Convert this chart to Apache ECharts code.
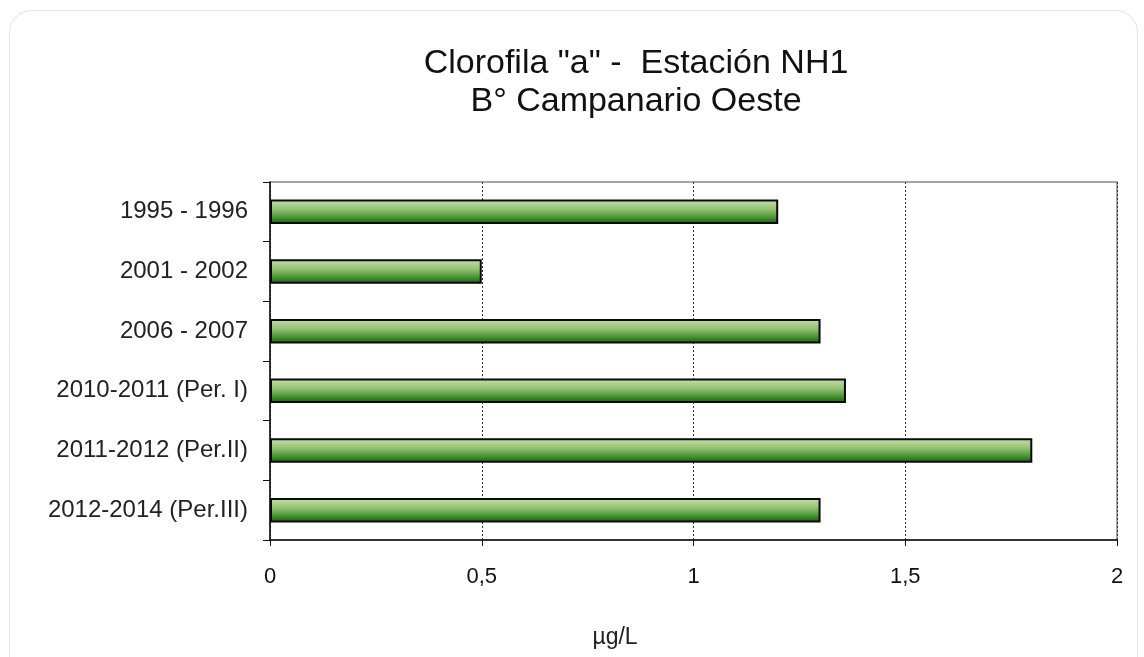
<!DOCTYPE html>
<html>
<head>
<meta charset="utf-8">
<script src="https://cdn.jsdelivr.net/npm/echarts@6/dist/echarts.min.js"></script>
<style>
  html, body { margin: 0; padding: 0; background: #fff; }
  #chart { width: 1144px; height: 657px; }
</style>
</head>
<body>
<div id="chart"></div>
<script>
// periods, top to bottom as in the picture
const periods = [
  '1995 - 1996',
  '2001 - 2002',
  '2006 - 2007',
  '2010-2011 (Per. I)',
  '2011-2012 (Per.II)',
  '2012-2014 (Per.III)'
];
// clorofila "a" en µg/L
const clorofila = [1.2, 0.5, 1.3, 1.36, 1.8, 1.3];
const xTicks = ['0', '0,5', '1', '1,5', '2'];

const chart = echarts.init(document.getElementById('chart'));

const barFill = new echarts.graphic.LinearGradient(0, 0, 0, 1, [
  { offset: 0, color: '#c8e0b2' },
  { offset: 0.4, color: '#93c273' },
  { offset: 0.75, color: '#44912f' },
  { offset: 1, color: '#185a10' }
]);

chart.setOption({
  animation: false,
  backgroundColor: '#fff',
  textStyle: { fontFamily: 'Liberation Sans, Arial, sans-serif' },
  graphic: [{
    type: 'rect',
    z: -10,
    shape: { x: 9.5, y: 10.5, width: 1128, height: 700, r: 22 },
    style: { fill: '#fff', stroke: '#e4e4e4', lineWidth: 1 }
  }],
  title: {
    text: 'Clorofila "a" -  Estación NH1\nB° Campanario Oeste',
    left: 631,
    top: 40,
    textAlign: 'center',
    textStyle: {
      fontSize: 34,
      fontWeight: 'normal',
      color: '#111',
      lineHeight: 38,
      fontFamily: 'Liberation Sans, Arial, sans-serif'
    }
  },
  grid: {
    left: 270, right: 27, top: 182, bottom: 117,
    containLabel: false, outerBoundsMode: 'none',
    show: true, borderColor: '#888', borderWidth: 1.5
  },
  xAxis: {
    type: 'value',
    min: 0,
    max: 2,
    interval: 0.5,
    name: 'µg/L',
    nameLocation: 'middle',
    nameGap: 86,
    nameTextStyle: { fontSize: 23, color: '#222', padding: [0, 157, 0, 0] },
    axisLine: { show: true, lineStyle: { color: '#111', width: 1.5 } },
    axisTick: { show: true, length: 6, lineStyle: { color: '#111' } },
    axisLabel: {
      fontSize: 22, color: '#111', margin: 26,
      formatter: v => xTicks[Math.round(v / 0.5)]
    },
    splitLine: { show: true, lineStyle: { color: '#333', type: [2, 2], width: 1 } }
  },
  yAxis: {
    type: 'category',
    data: periods,
    inverse: true,
    axisLine: { show: true, lineStyle: { color: '#111', width: 1.5 } },
    axisTick: { show: true, length: 7, lineStyle: { color: '#111' } },
    axisLabel: { fontSize: 24, color: '#222', margin: 22 },
    splitLine: { show: false }
  },
  series: [{
    type: 'bar',
    data: clorofila,
    barWidth: '41%',
    itemStyle: {
      color: barFill,
      borderColor: '#0a0a0a',
      borderWidth: 2
    }
  }]
});
</script>
</body>
</html>
